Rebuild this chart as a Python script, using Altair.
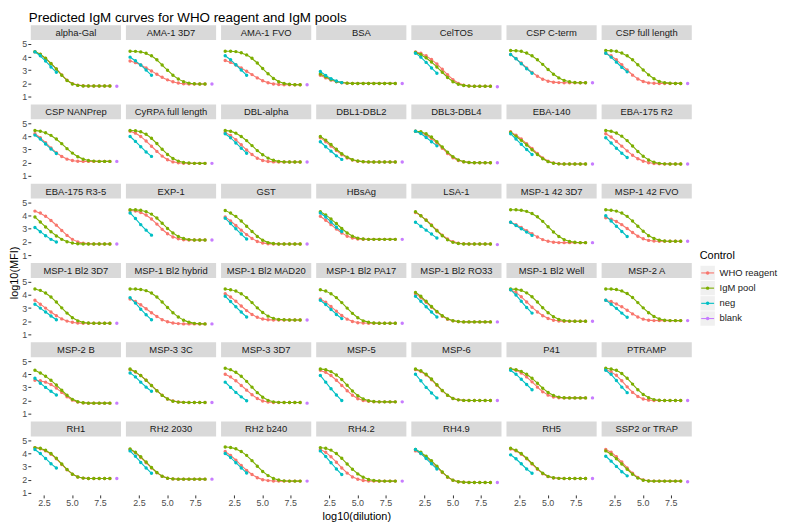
import altair as alt
import pandas as pd

FONT = "Liberation Sans"

antigens = ["alpha-Gal", "AMA-1 3D7", "AMA-1 FVO", "BSA", "CelTOS", "CSP C-term", "CSP full length",
            "CSP NANPrep", "CyRPA full length", "DBL-alpha", "DBL1-DBL2", "DBL3-DBL4", "EBA-140", "EBA-175 R2",
            "EBA-175 R3-5", "EXP-1", "GST", "HBsAg", "LSA-1", "MSP-1 42 3D7", "MSP-1 42 FVO",
            "MSP-1 Bl2 3D7", "MSP-1 Bl2 hybrid", "MSP-1 Bl2 MAD20", "MSP-1 Bl2 PA17", "MSP-1 Bl2 RO33", "MSP-1 Bl2 Well", "MSP-2 A",
            "MSP-2 B", "MSP-3 3C", "MSP-3 3D7", "MSP-5", "MSP-6", "P41", "PTRAMP",
            "RH1", "RH2 2030", "RH2 b240", "RH4.2", "RH4.9", "RH5", "SSP2 or TRAP"]

# log10(dilution) of the 3-fold dilution series
dilution = [1.70, 2.18, 2.65, 3.13, 3.61, 4.09, 4.56, 5.04, 5.52, 6.00, 6.47, 6.95, 7.43, 7.91, 8.38]
blank_x = 9.0

who_vals = [
    [4.40, 4.20, 3.90, 3.50, 3.10, 2.65, 2.25, 1.98, 1.86, 1.82, 1.80, 1.80, 1.80, 1.80, 1.80],
    [3.70, 3.58, 3.40, 3.18, 2.95, 2.70, 2.47, 2.27, 2.12, 2.03, 1.98, 1.96, 1.95, 1.95, 1.95],
    [3.75, 3.60, 3.40, 3.18, 2.93, 2.67, 2.42, 2.20, 2.05, 1.96, 1.92, 1.90, 1.90, 1.90, 1.90],
    [2.62, 2.42, 2.25, 2.12, 2.05, 2.02, 2.00, 2.00, 2.00, 2.00, 2.00, 2.00, 2.00, 2.00, 2.00],
    [4.40, 4.30, 4.10, 3.82, 3.48, 3.08, 2.66, 2.28, 2.00, 1.86, 1.80, 1.78, 1.78, 1.78, 1.78],
    [4.20, 3.90, 3.55, 3.18, 2.84, 2.55, 2.32, 2.17, 2.09, 2.06, 2.05, 2.05, 2.05, 2.05, 2.05],
    [4.30, 4.10, 3.80, 3.42, 3.02, 2.63, 2.33, 2.14, 2.04, 2.01, 2.00, 2.00, 2.00, 2.00, 2.00],
    [4.20, 3.90, 3.52, 3.12, 2.76, 2.47, 2.27, 2.16, 2.11, 2.10, 2.10, 2.10, 2.10, 2.10, 2.10],
    [4.40, 4.25, 4.00, 3.65, 3.25, 2.86, 2.50, 2.22, 2.06, 1.99, 1.96, 1.95, 1.95, 1.95, 1.95],
    [4.30, 4.08, 3.75, 3.36, 2.96, 2.62, 2.34, 2.17, 2.09, 2.06, 2.05, 2.05, 2.05, 2.05, 2.05],
    [3.90, 3.60, 3.26, 2.92, 2.60, 2.36, 2.20, 2.11, 2.07, 2.05, 2.05, 2.05, 2.05, 2.05, 2.05],
    [4.40, 4.30, 4.10, 3.85, 3.50, 3.10, 2.70, 2.38, 2.16, 2.06, 2.02, 2.00, 2.00, 2.00, 2.00],
    [4.35, 4.10, 3.80, 3.45, 3.08, 2.70, 2.36, 2.11, 1.97, 1.92, 1.90, 1.90, 1.90, 1.90, 1.90],
    [4.20, 3.95, 3.62, 3.26, 2.90, 2.57, 2.30, 2.11, 2.00, 1.94, 1.91, 1.90, 1.90, 1.90, 1.90],
    [4.35, 4.20, 3.96, 3.64, 3.28, 2.88, 2.50, 2.20, 2.00, 1.90, 1.86, 1.85, 1.85, 1.85, 1.85],
    [4.40, 4.36, 4.25, 4.05, 3.75, 3.36, 2.96, 2.62, 2.38, 2.24, 2.17, 2.15, 2.15, 2.15, 2.15],
    [3.90, 3.60, 3.26, 2.90, 2.56, 2.26, 2.04, 1.92, 1.87, 1.85, 1.85, 1.85, 1.85, 1.85, 1.85],
    [3.95, 3.66, 3.32, 2.98, 2.68, 2.44, 2.30, 2.23, 2.21, 2.20, 2.20, 2.20, 2.20, 2.20, 2.20],
    [4.25, 4.00, 3.68, 3.30, 2.90, 2.52, 2.22, 2.02, 1.91, 1.86, 1.85, 1.85, 1.85, 1.85, 1.85],
    [3.50, 3.32, 3.10, 2.86, 2.62, 2.38, 2.18, 2.05, 1.98, 1.95, 1.95, 1.95, 1.95, 1.95, 1.95],
    [3.85, 3.74, 3.56, 3.32, 3.03, 2.72, 2.44, 2.24, 2.12, 2.07, 2.05, 2.05, 2.05, 2.05, 2.05],
    [3.60, 3.30, 3.00, 2.70, 2.42, 2.18, 2.01, 1.92, 1.87, 1.85, 1.85, 1.85, 1.85, 1.85, 1.85],
    [3.70, 3.50, 3.25, 2.95, 2.65, 2.36, 2.12, 1.96, 1.87, 1.82, 1.80, 1.80, 1.80, 1.80, 1.80],
    [4.10, 3.85, 3.52, 3.16, 2.81, 2.51, 2.30, 2.17, 2.11, 2.10, 2.10, 2.10, 2.10, 2.10, 2.10],
    [3.70, 3.45, 3.12, 2.77, 2.44, 2.16, 1.98, 1.89, 1.86, 1.85, 1.85, 1.85, 1.85, 1.85, 1.85],
    [4.10, 3.80, 3.45, 3.07, 2.70, 2.38, 2.15, 2.03, 1.97, 1.95, 1.95, 1.95, 1.95, 1.95, 1.95],
    [4.40, 4.20, 3.87, 3.47, 3.07, 2.71, 2.42, 2.21, 2.08, 2.02, 2.00, 2.00, 2.00, 2.00, 2.00],
    [3.60, 3.50, 3.32, 3.10, 2.84, 2.56, 2.32, 2.16, 2.08, 2.05, 2.05, 2.05, 2.05, 2.05, 2.05],
    [3.55, 3.50, 3.40, 3.22, 2.96, 2.62, 2.29, 2.03, 1.88, 1.82, 1.80, 1.80, 1.80, 1.80, 1.80],
    [4.35, 4.16, 3.90, 3.55, 3.15, 2.75, 2.40, 2.12, 1.96, 1.89, 1.86, 1.85, 1.85, 1.85, 1.85],
    [4.00, 3.80, 3.50, 3.15, 2.79, 2.44, 2.15, 1.96, 1.88, 1.85, 1.85, 1.85, 1.85, 1.85, 1.85],
    [4.30, 4.15, 3.90, 3.55, 3.15, 2.75, 2.40, 2.14, 2.00, 1.94, 1.91, 1.90, 1.90, 1.90, 1.90],
    [4.35, 4.20, 3.95, 3.58, 3.16, 2.74, 2.39, 2.16, 2.05, 2.01, 2.00, 2.00, 2.00, 2.00, 2.00],
    [4.40, 4.30, 4.10, 3.80, 3.42, 3.02, 2.66, 2.41, 2.27, 2.21, 2.20, 2.20, 2.20, 2.20, 2.20],
    [4.35, 4.20, 3.92, 3.50, 3.04, 2.62, 2.31, 2.12, 2.03, 2.00, 2.00, 2.00, 2.00, 2.00, 2.00],
    [4.45, 4.36, 4.20, 3.95, 3.60, 3.17, 2.76, 2.42, 2.22, 2.13, 2.10, 2.10, 2.10, 2.10, 2.10],
    [4.30, 4.05, 3.70, 3.30, 2.90, 2.53, 2.26, 2.12, 2.07, 2.05, 2.05, 2.05, 2.05, 2.05, 2.05],
    [4.15, 3.86, 3.50, 3.10, 2.72, 2.40, 2.16, 2.01, 1.94, 1.91, 1.90, 1.90, 1.90, 1.90, 1.90],
    [4.30, 4.10, 3.76, 3.34, 2.90, 2.51, 2.22, 2.04, 1.95, 1.91, 1.90, 1.90, 1.90, 1.90, 1.90],
    [4.20, 4.00, 3.70, 3.35, 2.95, 2.55, 2.20, 1.96, 1.85, 1.81, 1.80, 1.80, 1.80, 1.80, 1.80],
    [4.35, 4.20, 3.95, 3.60, 3.20, 2.80, 2.46, 2.24, 2.14, 2.11, 2.10, 2.10, 2.10, 2.10, 2.10],
    [4.30, 4.10, 3.76, 3.35, 2.90, 2.50, 2.18, 1.99, 1.92, 1.90, 1.90, 1.90, 1.90, 1.90, 1.90],
]

igm_vals = [
    [4.42, 4.22, 3.92, 3.52, 3.10, 2.62, 2.22, 1.96, 1.85, 1.81, 1.80, 1.80, 1.80, 1.80, 1.80],
    [4.45, 4.44, 4.40, 4.30, 4.10, 3.80, 3.40, 3.00, 2.62, 2.33, 2.13, 2.02, 1.97, 1.95, 1.95],
    [4.45, 4.45, 4.42, 4.33, 4.17, 3.92, 3.55, 3.13, 2.73, 2.38, 2.13, 1.99, 1.93, 1.90, 1.90],
    [2.72, 2.50, 2.30, 2.15, 2.06, 2.02, 2.00, 2.00, 2.00, 2.00, 2.00, 2.00, 2.00, 2.00, 2.00],
    [4.35, 4.20, 3.95, 3.63, 3.25, 2.85, 2.45, 2.12, 1.93, 1.84, 1.80, 1.78, 1.78, 1.78, 1.78],
    [4.50, 4.49, 4.45, 4.32, 4.10, 3.80, 3.45, 3.06, 2.70, 2.42, 2.23, 2.12, 2.07, 2.05, 2.05],
    [4.50, 4.49, 4.45, 4.32, 4.10, 3.80, 3.42, 3.02, 2.65, 2.35, 2.15, 2.05, 2.01, 2.00, 2.00],
    [4.45, 4.40, 4.28, 4.08, 3.80, 3.45, 3.07, 2.73, 2.45, 2.26, 2.16, 2.12, 2.10, 2.10, 2.10],
    [4.45, 4.44, 4.36, 4.16, 3.86, 3.46, 3.02, 2.62, 2.32, 2.12, 2.02, 1.97, 1.95, 1.95, 1.95],
    [4.45, 4.40, 4.25, 4.00, 3.68, 3.30, 2.92, 2.60, 2.35, 2.18, 2.10, 2.06, 2.05, 2.05, 2.05],
    [4.00, 3.72, 3.38, 3.02, 2.68, 2.42, 2.23, 2.13, 2.08, 2.06, 2.05, 2.05, 2.05, 2.05, 2.05],
    [4.40, 4.35, 4.20, 3.95, 3.60, 3.20, 2.80, 2.45, 2.20, 2.07, 2.02, 2.00, 2.00, 2.00, 2.00],
    [4.30, 4.02, 3.70, 3.35, 2.98, 2.62, 2.30, 2.08, 1.96, 1.91, 1.90, 1.90, 1.90, 1.90, 1.90],
    [4.45, 4.40, 4.26, 4.02, 3.68, 3.27, 2.85, 2.49, 2.21, 2.04, 1.95, 1.91, 1.90, 1.90, 1.90],
    [3.90, 3.52, 3.14, 2.78, 2.46, 2.20, 2.02, 1.92, 1.87, 1.85, 1.85, 1.85, 1.85, 1.85, 1.85],
    [4.45, 4.45, 4.41, 4.31, 4.12, 3.82, 3.43, 3.03, 2.68, 2.42, 2.26, 2.18, 2.15, 2.15, 2.15],
    [4.40, 4.20, 3.95, 3.60, 3.20, 2.80, 2.42, 2.13, 1.95, 1.88, 1.85, 1.85, 1.85, 1.85, 1.85],
    [4.30, 4.05, 3.75, 3.40, 3.02, 2.68, 2.44, 2.29, 2.22, 2.20, 2.20, 2.20, 2.20, 2.20, 2.20],
    [4.30, 4.00, 3.65, 3.25, 2.85, 2.47, 2.16, 1.97, 1.88, 1.85, 1.85, 1.85, 1.85, 1.85, 1.85],
    [4.45, 4.45, 4.41, 4.33, 4.17, 3.92, 3.57, 3.16, 2.76, 2.42, 2.18, 2.04, 1.98, 1.95, 1.95],
    [4.45, 4.42, 4.35, 4.20, 3.95, 3.60, 3.20, 2.82, 2.48, 2.26, 2.13, 2.07, 2.05, 2.05, 2.05],
    [4.45, 4.35, 4.15, 3.85, 3.46, 3.02, 2.62, 2.27, 2.03, 1.91, 1.86, 1.85, 1.85, 1.85, 1.85],
    [4.45, 4.45, 4.42, 4.33, 4.15, 3.85, 3.47, 3.05, 2.65, 2.32, 2.07, 1.92, 1.84, 1.81, 1.80],
    [4.45, 4.40, 4.30, 4.10, 3.80, 3.42, 3.02, 2.66, 2.39, 2.22, 2.14, 2.11, 2.10, 2.10, 2.10],
    [4.40, 4.30, 4.10, 3.80, 3.42, 3.00, 2.60, 2.26, 2.03, 1.92, 1.87, 1.85, 1.85, 1.85, 1.85],
    [4.20, 3.90, 3.52, 3.12, 2.74, 2.42, 2.18, 2.04, 1.98, 1.95, 1.95, 1.95, 1.95, 1.95, 1.95],
    [4.45, 4.44, 4.36, 4.16, 3.86, 3.46, 3.03, 2.64, 2.34, 2.14, 2.04, 2.01, 2.00, 2.00, 2.00],
    [4.45, 4.45, 4.41, 4.31, 4.11, 3.81, 3.42, 3.02, 2.65, 2.36, 2.17, 2.08, 2.05, 2.05, 2.05],
    [4.30, 4.10, 3.85, 3.55, 3.18, 2.78, 2.40, 2.09, 1.91, 1.83, 1.80, 1.80, 1.80, 1.80, 1.80],
    [4.40, 4.20, 3.90, 3.54, 3.14, 2.74, 2.39, 2.11, 1.95, 1.88, 1.86, 1.85, 1.85, 1.85, 1.85],
    [4.45, 4.35, 4.15, 3.85, 3.46, 3.02, 2.60, 2.25, 2.01, 1.90, 1.86, 1.85, 1.85, 1.85, 1.85],
    [4.40, 4.35, 4.20, 3.95, 3.60, 3.16, 2.72, 2.36, 2.11, 1.98, 1.92, 1.90, 1.90, 1.90, 1.90],
    [4.40, 4.26, 4.00, 3.64, 3.20, 2.76, 2.40, 2.16, 2.05, 2.01, 2.00, 2.00, 2.00, 2.00, 2.00],
    [4.40, 4.35, 4.22, 4.00, 3.70, 3.32, 2.93, 2.61, 2.38, 2.26, 2.21, 2.20, 2.20, 2.20, 2.20],
    [4.45, 4.40, 4.30, 4.06, 3.70, 3.25, 2.82, 2.46, 2.21, 2.07, 2.02, 2.00, 2.00, 2.00, 2.00],
    [4.45, 4.40, 4.25, 4.00, 3.65, 3.21, 2.78, 2.43, 2.22, 2.13, 2.10, 2.10, 2.10, 2.10, 2.10],
    [4.35, 4.10, 3.75, 3.35, 2.93, 2.55, 2.27, 2.12, 2.07, 2.05, 2.05, 2.05, 2.05, 2.05, 2.05],
    [4.50, 4.46, 4.36, 4.16, 3.86, 3.46, 3.03, 2.63, 2.32, 2.10, 1.98, 1.92, 1.90, 1.90, 1.90],
    [4.45, 4.40, 4.26, 4.00, 3.64, 3.21, 2.80, 2.45, 2.19, 2.03, 1.95, 1.91, 1.90, 1.90, 1.90],
    [4.30, 4.10, 3.80, 3.45, 3.04, 2.60, 2.22, 1.96, 1.85, 1.81, 1.80, 1.80, 1.80, 1.80, 1.80],
    [4.40, 4.25, 4.00, 3.65, 3.25, 2.85, 2.50, 2.26, 2.15, 2.11, 2.10, 2.10, 2.10, 2.10, 2.10],
    [4.20, 3.95, 3.60, 3.20, 2.80, 2.42, 2.13, 1.97, 1.91, 1.90, 1.90, 1.90, 1.90, 1.90, 1.90],
]

neg_vals = [
    [4.40, 4.10, 3.70, 3.25, 2.85], [4.00, 3.72, 3.40, 3.02, 2.62], [4.10, 3.80, 3.42, 3.02, 2.62],
    [2.90, 2.60, 2.36, 2.18, 2.06], [4.30, 4.00, 3.60, 3.18, 2.78], [4.20, 3.88, 3.50, 3.12, 2.78],
    [4.30, 4.00, 3.62, 3.22, 2.88], [4.10, 3.80, 3.42, 3.04, 2.70], [4.00, 3.62, 3.22, 2.82, 2.48],
    [4.20, 3.90, 3.50, 3.10, 2.72], [3.60, 3.22, 2.88, 2.52, 2.25], [4.40, 4.22, 3.92, 3.60, 3.28],
    [4.20, 3.80, 3.40, 3.00, 2.62], [3.90, 3.50, 3.10, 2.72, 2.40], [3.10, 2.78, 2.48, 2.20, 2.00],
    [4.20, 3.78, 3.32, 2.90, 2.52], [3.80, 3.40, 3.00, 2.60, 2.22], [4.20, 3.90, 3.52, 3.12, 2.80],
    [3.50, 3.20, 2.90, 2.60, 2.30], [3.50, 3.25, 3.00, 2.75, 2.50], [4.00, 3.60, 3.20, 2.80, 2.42],
    [3.30, 3.00, 2.70, 2.40, 2.12], [3.80, 3.38, 2.92, 2.50, 2.12], [3.90, 3.50, 3.10, 2.70, 2.32],
    [3.60, 3.28, 2.90, 2.52, 2.20], [3.90, 3.52, 3.10, 2.70, 2.32], [4.40, 4.00, 3.52, 3.04, 2.62],
    [3.60, 3.30, 2.98, 2.62, 2.30], [3.70, 3.32, 3.00, 2.70, 2.42], [4.10, 3.80, 3.40, 3.02, 2.70],
    [3.40, 3.00, 2.62, 2.28, 1.98], [3.90, 3.40, 2.90, 2.42, 2.00], [4.00, 3.50, 3.00, 2.58, 2.20],
    [4.30, 4.00, 3.62, 3.22, 2.82], [4.30, 4.00, 3.52, 3.02, 2.60], [4.30, 4.00, 3.62, 3.22, 2.90],
    [4.20, 3.80, 3.32, 2.90, 2.50], [4.00, 3.70, 3.30, 2.90, 2.52], [4.20, 3.78, 3.30, 2.82, 2.40],
    [4.30, 4.00, 3.62, 3.22, 2.82], [3.90, 3.60, 3.22, 2.82, 2.50], [3.80, 3.42, 3.02, 2.62, 2.30],
]

blank_vals = [1.78, 1.95, 1.90, 2.00, 1.75, 2.05, 2.00,
              2.10, 1.95, 2.05, 2.05, 2.00, 1.90, 1.90,
              1.85, 2.15, 1.85, 2.20, 1.80, 1.95, 2.05,
              1.85, 1.80, 2.10, 1.85, 1.95, 2.00, 2.05,
              1.80, 1.85, 1.80, 1.90, 2.00, 2.20, 2.00,
              2.10, 2.05, 1.90, 1.90, 1.80, 2.10, 1.85]

controls = ["WHO reagent", "IgM pool", "neg", "blank"]
colors = ["#F8766D", "#7CAE00", "#00BFC4", "#C77CFF"]

# ---------- build table ----------
rows = []
for i, ag in enumerate(antigens):
    rows.append(dict(antigen=ag, kind="strip", control="", x=None, y=None))
    for ctrl, vals in (("WHO reagent", who_vals[i]), ("IgM pool", igm_vals[i]), ("neg", neg_vals[i])):
        for xv, yv in zip(dilution, vals):
            rows.append(dict(antigen=ag, kind="curve", control=ctrl, x=xv, y=yv))
    rows.append(dict(antigen=ag, kind="blank", control="blank", x=blank_x, y=blank_vals[i]))
df = pd.DataFrame(rows)

W = 91
STRIP = 15
H = 74

xscale = alt.Scale(domain=[1.33, 9.37], nice=False, zero=False)
yscale = alt.Scale(domain=[0.85, 5.3], nice=False, zero=False, range=[H, STRIP])
color = alt.Color("control:N", scale=alt.Scale(domain=controls, range=colors), legend=None)
xaxis = alt.Axis(values=[2.5, 5.0, 7.5], format=".1f", title=None)
yaxis = alt.Axis(values=[1, 2, 3, 4, 5], format="d", title=None)

base = alt.Chart(df)

strip_rect = base.transform_filter("datum.kind == 'strip'").mark_rect(color="#D9D9D9").encode(
    x=alt.value(0), x2=alt.value(W), y=alt.value(0), y2=alt.value(STRIP))
strip_text = base.transform_filter("datum.kind == 'strip'").mark_text(
    font=FONT, fontSize=9.5, color="#1A1A1A", baseline="middle", align="center").encode(
    x=alt.value(W / 2), y=alt.value(STRIP / 2 + 0.5), text="antigen:N")


def line_layer(ctrl):
    return base.transform_filter(alt.datum.control == ctrl).mark_line(
        strokeWidth=1.1, interpolate="basis").encode(
        x=alt.X("x:Q", scale=xscale, axis=xaxis),
        y=alt.Y("y:Q", scale=yscale, axis=yaxis),
        color=color)


def point_layer(ctrl):
    return base.transform_filter(alt.datum.control == ctrl).mark_circle(size=12, opacity=1).encode(
        x=alt.X("x:Q", scale=xscale, axis=xaxis),
        y=alt.Y("y:Q", scale=yscale, axis=yaxis),
        color=color)


panel = alt.layer(
    strip_rect, strip_text,
    point_layer("WHO reagent"), line_layer("WHO reagent"),
    point_layer("IgM pool"), line_layer("IgM pool"),
    point_layer("neg"), line_layer("neg"),
    point_layer("blank"),
).properties(width=W, height=H)

facet = panel.facet(
    facet=alt.Facet("antigen:N", sort=antigens, title=None,
                    header=alt.Header(labels=False, labelFontSize=1, labelPadding=0,
                                      labelColor="white", labelExpr="''")),
    columns=7,
    spacing=5,
).properties(title=alt.TitleParams("log10(dilution)", orient="bottom", anchor="middle",
                                    fontSize=11, offset=3))

# ---------- legend ----------
leg_df = pd.DataFrame({"control": controls})
lbase = alt.Chart(leg_df)
ly = alt.Y("control:N", sort=controls, axis=None,
           scale=alt.Scale(type="point", domain=controls, range=[250, 296], padding=0))
key_bg = lbase.mark_square(size=210, color="#F0F0F0", opacity=1).encode(x=alt.value(8), y=ly)
key_line = lbase.mark_rule(strokeWidth=1.1).encode(x=alt.value(1.5), x2=alt.value(14.5), y=ly, color=color)
key_pt = lbase.mark_circle(size=12, opacity=1).encode(x=alt.value(8), y=ly, color=color)
key_txt = lbase.mark_text(font=FONT, fontSize=9.5, align="left", baseline="middle", color="#1A1A1A").encode(
    x=alt.value(20), y=ly, text="control:N")
leg_title = alt.Chart(pd.DataFrame({"t": ["Control"]})).mark_text(
    font=FONT, fontSize=11, align="left", baseline="middle", color="black").encode(
    x=alt.value(0), y=alt.value(233), text="t:N")
legend = alt.layer(key_bg, key_line, key_pt, key_txt, leg_title).properties(width=78, height=H * 6 + 25)

body = alt.hconcat(facet, legend, spacing=8).properties(
    title=alt.TitleParams("log10(MFI)", orient="left", anchor="middle", fontSize=11, offset=2))

chart = alt.vconcat(body).properties(
    title=alt.TitleParams("Predicted IgM curves for WHO reagent and IgM pools", anchor="start",
                          fontSize=13.5, offset=0, dx=20),
    padding=0,
).configure_view(strokeWidth=0).configure_axis(
    grid=False, domain=False, tickColor="#333333", tickSize=3, labelColor="#4D4D4D",
    labelFont=FONT, labelFontSize=9, labelPadding=1
).configure_title(font=FONT, fontWeight="normal", color="black").configure_concat(
    spacing=0).configure_header(labels=False, labelFontSize=1, labelPadding=0)

chart.save("out.html", embed_options={"renderer": "svg", "actions": False})
